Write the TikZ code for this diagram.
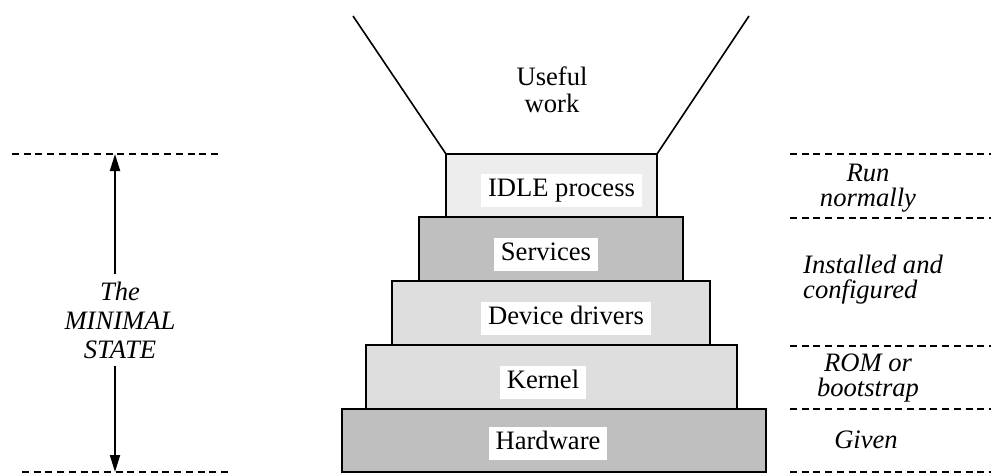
\documentclass[tikz,border=0pt]{standalone}
\usepackage{fontspec}
\setmainfont{Liberation Serif}
\usetikzlibrary{positioning,arrows.meta}
\definecolor{paleshade}{gray}{0.93}
\definecolor{midshade}{gray}{0.87}
\definecolor{darkshade}{gray}{0.75}

\begin{document}
\begin{tikzpicture}[x=1pt, y=-1pt,
  every node/.style={font=\fontsize{26.6}{27}\selectfont},
  layer/.style={draw, line width=2pt, outer sep=0pt, inner sep=0pt},
  tag/.style={fill=white, inner xsep=7pt, inner ysep=4.5pt, text height=18pt, text depth=6pt},
  note/.style={font=\fontsize{26.6}{25}\selectfont\itshape, align=center, inner sep=0pt},
  guide/.style={line width=2.2pt, dash pattern=on 7pt off 4.7pt},
  span/.style={line width=2pt, -{Triangle[length=17pt,width=10pt]}}]
\useasboundingbox (0,0) rectangle (991,474);

% the layers, top to bottom
\node[layer, fill=paleshade, minimum width=211pt, minimum height=63pt] (idle) at (551.5,185.5) {};
\node[layer, fill=darkshade, minimum width=264pt, minimum height=64pt] (services) at (551,249) {};
\node[layer, fill=midshade, minimum width=318pt, minimum height=64pt] (drivers) at (551,313) {};
\node[layer, fill=midshade, minimum width=371pt, minimum height=64pt] (kernel) at (551.5,377) {};
\node[layer, fill=darkshade, minimum width=424pt, minimum height=63pt] (hardware) at (554,440.5) {};

\node[tag] (idletxt) at (561.5,190.5) {IDLE process};
\node[tag] (servicestxt) at (546,254.5) {Services};
\node[tag] (driverstxt) at (566,318) {Device drivers};
\node[tag] (kerneltxt) at (543,382.5) {Kernel};
\node[tag] (hardwaretxt) at (548,443) {Hardware};

% funnel
\coordinate (funnelL) at (353,16);
\coordinate (funnelR) at (749,16);
\draw[line width=1.6pt] (funnelL) -- (idle.north west) (funnelR) -- (idle.north east);
\node[align=center] (useful) at (552,90) {Useful\\work};

% left span
\draw[guide] (12,154) -- (218,154);
\draw[guide] (22,472) -- (228,472);
\coordinate (stateTop) at (115,154);
\coordinate (stateBot) at (115,472);
\node[note, font=\fontsize{26.6}{29}\selectfont\itshape, inner sep=7pt] (minimal) at (120,320) {The\\MINIMAL\\STATE};
\draw[span] (minimal.north -| stateTop) -- (stateTop);
\draw[span] (minimal.south -| stateTop) -- (stateBot);

% right stages
\foreach \y in {154,218,346,409,472}
  \draw[guide] (790,\y) -- (991,\y);
\node[note] (run) at (868,188) {Run\\normally};
\node[note, align=left, anchor=west] (installed) at (803,280) {Installed and\\configured};
\node[note] (rom) at (868,378) {ROM or\\bootstrap};
\node[note] (given) at (866,440) {Given};
\end{tikzpicture}
\end{document}
